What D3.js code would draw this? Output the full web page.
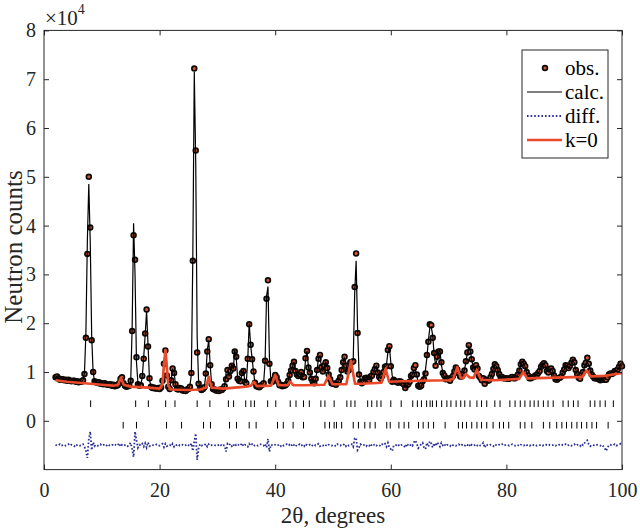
<!DOCTYPE html>
<html><head><meta charset="utf-8">
<script src="https://cdn.jsdelivr.net/npm/d3@7"></script>
<style>body{margin:0;background:#fff}svg{display:block}
svg text{font-family:"Liberation Serif","Times New Roman",Times,"DejaVu Serif",serif;}</style>
</head><body><svg id="c" width="640" height="528"></svg>
<script>
// ---- data (counts in units of 10^4) ----
const thetaStart = 2, thetaStep = 0.25;
const calcCounts = [
0.88,0.90,0.87,0.85,0.84,0.85,0.84,0.83,
0.83,0.83,0.82,0.82,0.81,0.82,0.81,0.80,
0.80,0.79,0.80,0.84,0.98,1.80,3.68,4.85,
3.68,1.75,0.98,0.82,0.79,0.78,0.78,0.77,
0.77,0.76,0.76,0.75,0.75,0.74,0.74,0.73,
0.73,0.72,0.72,0.73,0.78,0.86,0.88,0.78,
0.72,0.71,0.71,0.72,0.80,1.90,4.05,3.00,
1.20,0.78,0.72,0.74,0.90,1.30,1.75,2.25,
1.55,0.85,0.70,0.68,0.67,0.67,0.66,0.66,
0.66,0.68,0.80,1.20,1.45,0.95,0.70,0.66,
0.85,1.05,1.00,0.75,0.66,0.64,0.68,0.66,
0.63,0.62,0.62,0.63,0.65,0.72,0.95,3.40,
7.15,5.30,1.70,0.80,0.66,0.64,0.65,0.70,
0.95,1.45,1.65,1.15,0.75,0.66,0.64,0.63,
0.62,0.62,0.63,0.64,0.66,0.72,0.98,1.02,
0.92,1.00,1.16,1.05,1.45,1.30,0.88,0.80,
0.82,0.95,1.05,0.80,0.78,1.25,2.00,1.55,
1.28,1.00,0.78,0.72,0.70,0.70,0.71,0.74,
0.78,1.20,2.55,2.75,1.30,0.82,0.80,0.86,
0.93,0.90,0.80,0.74,0.73,0.72,0.72,0.73,
0.78,0.82,0.95,1.05,1.10,1.21,1.05,0.95,
0.92,0.97,0.99,0.90,0.92,1.25,1.43,1.10,
1.00,0.88,0.80,0.78,0.85,1.05,1.30,1.33,
1.10,1.02,1.12,1.20,1.10,0.96,0.85,0.78,
0.77,0.76,0.76,0.78,0.82,0.90,1.05,1.20,
1.28,1.15,1.02,1.05,1.20,1.22,1.25,2.60,
3.28,1.90,1.00,0.82,0.78,0.80,0.88,0.90,
0.86,0.84,0.88,0.95,1.00,1.08,1.12,1.00,
0.90,0.88,0.92,1.00,1.08,1.15,1.40,1.52,
1.20,0.92,0.85,0.82,0.80,0.80,0.79,0.80,
0.78,0.76,0.72,0.70,0.75,0.82,0.90,0.96,
1.02,1.04,0.92,0.78,0.72,0.70,0.76,0.90,
1.05,1.30,1.65,1.90,1.92,1.75,1.35,1.15,
1.25,1.40,1.45,1.15,0.98,0.90,0.87,0.86,
0.85,0.84,0.86,0.92,1.02,1.10,1.05,0.95,
0.92,0.90,0.96,1.05,1.20,1.40,1.52,1.45,
1.25,1.10,1.05,1.12,1.08,0.95,0.88,0.84,
0.82,0.81,0.82,0.82,0.84,0.88,0.96,1.08,
1.14,1.12,1.05,0.95,0.90,0.88,0.88,0.87,
0.86,0.86,0.87,0.88,0.88,0.87,0.88,0.90,
0.95,1.05,1.15,1.21,1.18,1.10,1.00,0.92,
0.88,0.87,0.88,0.90,0.92,0.95,0.98,1.02,
1.10,1.16,1.18,1.12,1.02,1.00,1.05,1.07,
1.02,0.92,0.86,0.84,0.85,0.88,0.92,0.98,
1.05,1.12,1.14,1.08,1.12,1.20,1.25,1.18,
1.05,0.95,0.88,0.88,0.92,1.00,1.10,1.17,
1.19,1.15,1.05,0.95,0.90,0.88,0.87,0.86,
0.85,0.84,0.86,0.88,0.90,0.92,0.94,0.95,
0.96,0.97,0.98,1.00,1.02,1.05,1.10,1.14,
1.12];
const obsCounts = [
0.89,0.91,0.87,0.84,0.85,0.85,0.83,0.84,
0.82,0.84,0.82,0.81,0.82,0.82,0.80,0.81,
0.79,0.80,0.80,0.83,0.96,1.70,3.42,5.00,
3.96,1.65,1.00,0.81,0.79,0.78,0.79,0.76,
0.77,0.75,0.77,0.75,0.74,0.74,0.75,0.72,
0.74,0.71,0.72,0.73,0.77,0.86,0.89,0.77,
0.72,0.70,0.71,0.72,0.82,1.84,3.80,3.30,
1.30,0.75,0.72,0.73,0.92,1.27,1.79,2.28,
1.52,0.87,0.70,0.67,0.68,0.66,0.66,0.67,
0.65,0.68,0.82,1.17,1.44,0.93,0.70,0.65,
0.83,1.07,0.98,0.75,0.65,0.64,0.67,0.66,
0.62,0.62,0.61,0.64,0.65,0.70,0.98,3.28,
7.22,5.54,1.40,0.76,0.67,0.63,0.65,0.69,
0.97,1.42,1.67,1.14,0.75,0.65,0.64,0.62,
0.62,0.61,0.64,0.63,0.66,0.71,0.85,1.04,
0.91,1.02,1.13,1.07,1.42,1.31,0.86,0.82,
0.81,0.98,1.02,0.80,0.77,1.27,1.98,1.56,
1.26,1.01,0.78,0.71,0.70,0.69,0.72,0.74,
0.77,1.23,2.50,2.88,1.17,0.81,0.80,0.85,
0.94,0.89,0.80,0.73,0.74,0.71,0.72,0.73,
0.76,0.82,0.94,1.03,1.13,1.21,1.02,0.95,
0.92,0.95,1.00,0.89,0.90,1.28,1.43,1.09,
0.99,0.86,0.80,0.77,0.86,1.04,1.27,1.35,
1.10,1.01,1.14,1.20,1.08,0.95,0.85,0.77,
0.76,0.76,0.74,0.78,0.82,0.89,1.04,1.20,
1.31,1.13,1.01,1.04,1.20,1.20,1.22,2.74,
3.43,1.80,0.95,0.80,0.77,0.80,0.87,0.88,
0.85,0.83,0.91,0.93,1.00,1.06,1.13,0.99,
0.90,0.86,0.92,1.00,1.11,1.12,1.45,1.53,
1.12,0.80,0.84,0.81,0.80,0.78,0.81,0.80,
0.77,0.75,0.67,0.73,0.75,0.80,0.92,0.95,
1.08,1.14,0.95,0.72,0.70,0.72,0.81,0.85,
0.97,1.35,1.62,1.98,1.96,1.70,1.39,1.13,
1.31,1.42,1.42,1.20,0.98,0.93,0.85,0.87,
0.85,0.82,0.88,0.92,1.01,1.09,1.05,0.97,
0.91,0.91,0.96,1.03,1.22,1.40,1.55,1.42,
1.26,1.09,1.05,1.14,1.07,0.92,0.88,0.83,
0.87,0.76,0.84,0.82,0.83,0.89,0.96,1.06,
1.16,1.12,1.04,0.96,0.90,0.90,0.87,0.87,
0.87,0.86,0.86,0.88,0.90,0.87,0.87,0.91,
0.95,1.03,1.16,1.21,1.17,1.12,1.00,0.93,
0.87,0.87,0.90,0.90,0.93,0.94,0.98,1.02,
1.11,1.15,1.18,1.14,1.02,0.99,1.06,1.07,
1.02,0.93,0.85,0.84,0.87,0.88,0.91,0.99,
1.05,1.14,1.13,1.08,1.13,1.19,1.25,1.20,
1.04,0.96,0.88,0.86,0.95,1.00,1.14,1.19,
1.29,1.17,1.03,0.95,0.91,0.87,0.87,0.86,
0.85,0.83,0.85,0.84,0.84,0.84,0.89,0.95,
0.97,0.96,0.98,1.02,1.01,1.05,1.11,1.17,
1.12];
const diffCounts = [
-0.49,-0.51,-0.50,-0.48,-0.51,-0.50,-0.49,-0.51,
-0.50,-0.48,-0.51,-0.49,-0.50,-0.52,-0.48,-0.50,
-0.49,-0.51,-0.50,-0.48,-0.53,-0.62,-0.76,-0.38,
-0.22,-0.60,-0.44,-0.52,-0.49,-0.51,-0.50,-0.48,
-0.51,-0.49,-0.50,-0.52,-0.48,-0.50,-0.51,-0.49,
-0.50,-0.48,-0.51,-0.50,-0.46,-0.53,-0.49,-0.51,
-0.50,-0.49,-0.52,-0.48,-0.45,-0.58,-0.74,-0.22,
-0.40,-0.55,-0.49,-0.51,-0.47,-0.53,-0.46,-0.55,
-0.44,-0.52,-0.50,-0.49,-0.51,-0.50,-0.48,-0.50,
-0.51,-0.49,-0.47,-0.54,-0.47,-0.52,-0.50,-0.49,
-0.52,-0.47,-0.53,-0.49,-0.50,-0.48,-0.51,-0.50,
-0.49,-0.51,-0.50,-0.48,-0.50,-0.52,-0.46,-0.62,
-0.43,-0.26,-0.80,-0.56,-0.48,-0.51,-0.49,-0.50,
-0.47,-0.53,-0.48,-0.51,-0.50,-0.49,-0.50,-0.51,
-0.49,-0.50,-0.48,-0.52,-0.50,-0.51,-0.63,-0.47,
-0.50,-0.47,-0.52,-0.48,-0.53,-0.49,-0.51,-0.48,
-0.50,-0.46,-0.52,-0.49,-0.50,-0.53,-0.47,-0.51,
-0.48,-0.52,-0.50,-0.49,-0.51,-0.50,-0.48,-0.50,
-0.51,-0.47,-0.55,-0.37,-0.63,-0.49,-0.50,-0.51,
-0.49,-0.51,-0.50,-0.48,-0.52,-0.49,-0.51,-0.50,
-0.48,-0.51,-0.49,-0.52,-0.47,-0.50,-0.53,-0.49,
-0.50,-0.48,-0.51,-0.49,-0.52,-0.47,-0.50,-0.51,
-0.49,-0.52,-0.50,-0.48,-0.51,-0.49,-0.47,-0.52,
-0.50,-0.51,-0.48,-0.50,-0.52,-0.49,-0.50,-0.51,
-0.49,-0.50,-0.52,-0.48,-0.50,-0.51,-0.49,-0.50,
-0.47,-0.52,-0.49,-0.51,-0.50,-0.48,-0.53,-0.36,
-0.35,-0.60,-0.55,-0.48,-0.51,-0.50,-0.49,-0.52,
-0.49,-0.51,-0.47,-0.52,-0.50,-0.48,-0.51,-0.49,
-0.50,-0.52,-0.48,-0.50,-0.47,-0.53,-0.45,-0.55,
-0.58,-0.62,-0.51,-0.49,-0.50,-0.48,-0.52,-0.50,
-0.49,-0.51,-0.55,-0.47,-0.50,-0.52,-0.48,-0.51,
-0.44,-0.40,-0.47,-0.56,-0.52,-0.48,-0.45,-0.55,
-0.58,-0.45,-0.53,-0.42,-0.46,-0.55,-0.46,-0.52,
-0.44,-0.48,-0.53,-0.45,-0.50,-0.47,-0.52,-0.49,
-0.50,-0.52,-0.48,-0.50,-0.49,-0.51,-0.50,-0.48,
-0.51,-0.49,-0.50,-0.52,-0.48,-0.50,-0.47,-0.53,
-0.49,-0.51,-0.50,-0.48,-0.51,-0.53,-0.50,-0.49,
-0.45,-0.55,-0.48,-0.50,-0.51,-0.49,-0.50,-0.52,
-0.48,-0.50,-0.51,-0.49,-0.50,-0.48,-0.51,-0.50,
-0.49,-0.50,-0.51,-0.50,-0.48,-0.50,-0.51,-0.49,
-0.50,-0.52,-0.49,-0.50,-0.51,-0.48,-0.50,-0.49,
-0.51,-0.50,-0.48,-0.50,-0.49,-0.51,-0.50,-0.50,
-0.49,-0.51,-0.50,-0.48,-0.50,-0.51,-0.49,-0.50,
-0.50,-0.49,-0.51,-0.50,-0.48,-0.50,-0.51,-0.49,
-0.50,-0.48,-0.51,-0.50,-0.49,-0.51,-0.50,-0.48,
-0.51,-0.49,-0.50,-0.52,-0.47,-0.50,-0.46,-0.42,
-0.40,-0.48,-0.52,-0.50,-0.49,-0.51,-0.50,-0.49,
-0.50,-0.51,-0.49,-0.52,-0.56,-0.62,-0.55,-0.50,
-0.49,-0.51,-0.50,-0.48,-0.51,-0.50,-0.49,-0.47,
-0.50];
const k0Theta = [2,4,6,8,10,12,12.8,13.3,13.8,15,18,20,20.5,20.8,21.0,21.2,21.5,22,25,27,28.0,28.5,29.0,31,35,35.8,36.3,36.8,39.3,40.0,40.6,42.1,42.6,43.1,45,48.5,49.2,49.9,52.3,53.1,53.8,55,58.4,59.1,59.7,62,65,70,70.8,71.5,72.1,72.6,73.0,73.6,74.3,74.9,75.6,78,82.2,82.9,83.6,87,90,93.1,93.9,94.6,97,100];
const k0Counts = [0.83,0.80,0.78,0.76,0.74,0.72,0.74,0.88,0.74,0.70,0.68,0.66,0.75,1.20,1.45,1.20,0.72,0.64,0.63,0.64,0.68,0.90,0.68,0.66,0.70,0.72,0.80,0.71,0.72,0.94,0.73,0.73,0.80,0.73,0.73,0.74,0.92,0.75,0.75,1.23,0.76,0.76,0.78,1.07,0.80,0.81,0.82,0.83,0.86,1.10,0.88,0.88,0.96,0.89,0.88,1.04,0.84,0.83,0.86,1.00,0.87,0.88,0.89,0.90,1.03,0.91,0.92,0.98];
const reflRow1 = [8.07,15.86,18.05,21.05,22.66,26.5,28.7,31.9,32.8,34.9,35.8,36.4,38.7,40.1,42.6,43.6,44.9,45.9,47.9,48.6,50.2,52.4,53.1,53.8,56.0,56.7,57.6,58.3,60.0,61.8,63.8,64.6,65.3,66.2,66.8,67.2,67.9,68.8,69.7,70.4,71.3,72.1,72.8,73.7,74.9,75.7,76.6,78.0,78.9,80.6,81.5,82.4,83.2,84.1,84.8,85.5,86.4,87.2,88.1,89.8,90.7,91.6,92.4,94.5,95.3,96.2,97.1,98.5];
const reflRow2 = [13.7,16.0,21.2,23.8,27.6,28.8,32.1,33.3,35.5,36.7,40.4,41.4,43.1,44.9,48.6,49.4,50.2,50.6,51.5,53.5,54.4,55.5,56.4,57.3,59.3,59.9,61.4,62.3,63.1,64.8,65.6,66.5,67.4,69.4,71.7,72.4,73.1,74.0,74.9,75.7,76.6,77.7,78.8,79.5,80.4,82.4,83.2,84.4,86.4,87.5,88.7,89.6,90.4,91.3,92.2,93.0,93.9,94.8,95.6,97.6];
const reflRowLevel = [0.35, -0.09];   // ×10^4, marker rows
const xTicks = [0,20,40,60,80,100];
const yTicks = [0,1,2,3,4,5,6,7,8];
const legendLabels = ["obs.","calc.","diff.","k=0"];

// ---- drawing ----
const twoTheta = calcCounts.map((_, i) => thetaStart + i * thetaStep);
const svg = d3.select("#c");
const font = "'Liberation Serif','Times New Roman',Times,'DejaVu Serif',serif";
const axisColor = "#262626";
const cObsFill = "#d9582f", cObsStroke = "#0d0a08", cDiff = "#2b2f96", cK0 = "#ea4a2a";

const x = d3.scaleLinear().domain([0,100]).range([44,622]);
const y = d3.scaleLinear().domain([-1,8]).range([469.6,30.4]);

const plot = svg.append("g");
plot.selectAll("circle.obs").data(obsCounts).join("circle").attr("class","obs")
  .attr("cx",(d,i)=>x(twoTheta[i])).attr("cy",d=>y(d)).attr("r",2.4)
  .attr("fill",cObsFill).attr("stroke",cObsStroke).attr("stroke-width",1.7);
plot.append("path").datum(calcCounts)
  .attr("d", d3.line().x((d,i)=>x(twoTheta[i])).y(d=>y(d)))
  .attr("fill","none").attr("stroke","#000").attr("stroke-width",1.2);
plot.append("path").datum(diffCounts)
  .attr("d", d3.line().x((d,i)=>x(twoTheta[i])).y(d=>y(d)))
  .attr("fill","none").attr("stroke",cDiff).attr("stroke-width",1.8)
  .attr("stroke-dasharray","1.6,2.0");
plot.append("path").datum(k0Counts)
  .attr("d", d3.line().x((d,i)=>x(k0Theta[i])).y(d=>y(d)))
  .attr("fill","none").attr("stroke",cK0).attr("stroke-width",2.6).attr("stroke-linejoin","round");
[reflRow1, reflRow2].forEach((row, r) => {
  plot.selectAll(null).data(row).join("line")
    .attr("x1",d=>x(d)).attr("x2",d=>x(d))
    .attr("y1",y(reflRowLevel[r]+0.068)).attr("y2",y(reflRowLevel[r]-0.068))
    .attr("stroke","#000").attr("stroke-width",1);
});

// ---- axes ----
function styleAxis(g){
  g.attr("font-family",null);
  g.select(".domain").remove();
  g.selectAll("line").attr("stroke",axisColor);
  g.selectAll("text").style("font-family",font).attr("font-size",20).attr("fill",axisColor);
}
svg.append("g").attr("transform",`translate(0,${y(-1)})`)
  .call(d3.axisBottom(x).tickValues(xTicks).tickSizeInner(-5).tickSizeOuter(0).tickPadding(13)).call(styleAxis);
svg.append("g").attr("transform",`translate(0,${y(8)})`)
  .call(d3.axisTop(x).tickValues(xTicks).tickSizeInner(-5).tickSizeOuter(0).tickFormat(()=>"")).call(styleAxis);
svg.append("g").attr("transform",`translate(${x(0)},0)`)
  .call(d3.axisLeft(y).tickValues(yTicks).tickSizeInner(-5).tickSizeOuter(0).tickPadding(8)).call(styleAxis);
svg.append("g").attr("transform",`translate(${x(100)},0)`)
  .call(d3.axisRight(y).tickValues(yTicks).tickSizeInner(-5).tickSizeOuter(0).tickFormat(()=>"")).call(styleAxis);
svg.append("rect").attr("x",x(0)).attr("y",y(8)).attr("width",x(100)-x(0)).attr("height",y(-1)-y(8))
  .attr("fill","none").attr("stroke",axisColor).attr("stroke-width",1);

const ex = svg.append("text").attr("x",45).attr("y",25).style("font-family",font).attr("font-size",21).attr("fill",axisColor).text("×10");
ex.append("tspan").attr("dy",-11).attr("font-size",14).text("4");

svg.append("text").attr("x",(x(0)+x(100))/2).attr("y",523).attr("text-anchor","middle")
  .style("font-family",font).attr("font-size",23).attr("fill",axisColor).text("2θ, degrees");
svg.append("text").attr("transform",`translate(22,${(y(-1)+y(8))/2 - 3}) rotate(-90)`).attr("text-anchor","middle")
  .style("font-family",font).attr("font-size",25).attr("fill",axisColor).text("Neutron counts");

const lg = svg.append("g");
lg.append("rect").attr("x",522).attr("y",50).attr("width",86).attr("height",108)
  .attr("fill","#fff").attr("stroke",axisColor).attr("stroke-width",1);
legendLabels.forEach((lab, i) => {
  const cy = 68 + i * 24;
  if (i === 0) {
    lg.append("circle").attr("cx",545).attr("cy",cy).attr("r",2.4)
      .attr("fill",cObsFill).attr("stroke",cObsStroke).attr("stroke-width",1.7);
  } else {
    const ln = lg.append("line").attr("x1",527).attr("x2",562).attr("y1",cy).attr("y2",cy);
    if (i === 1) ln.attr("stroke","#000").attr("stroke-width",1.2);
    if (i === 2) ln.attr("stroke",cDiff).attr("stroke-width",1.8).attr("stroke-dasharray","1.6,2.0");
    if (i === 3) ln.attr("stroke",cK0).attr("stroke-width",2.6);
  }
  lg.append("text").attr("x",565).attr("y",cy).attr("dy","0.35em")
    .style("font-family",font).attr("font-size",21).attr("fill","#000").text(lab);
});
</script>
</body></html>
